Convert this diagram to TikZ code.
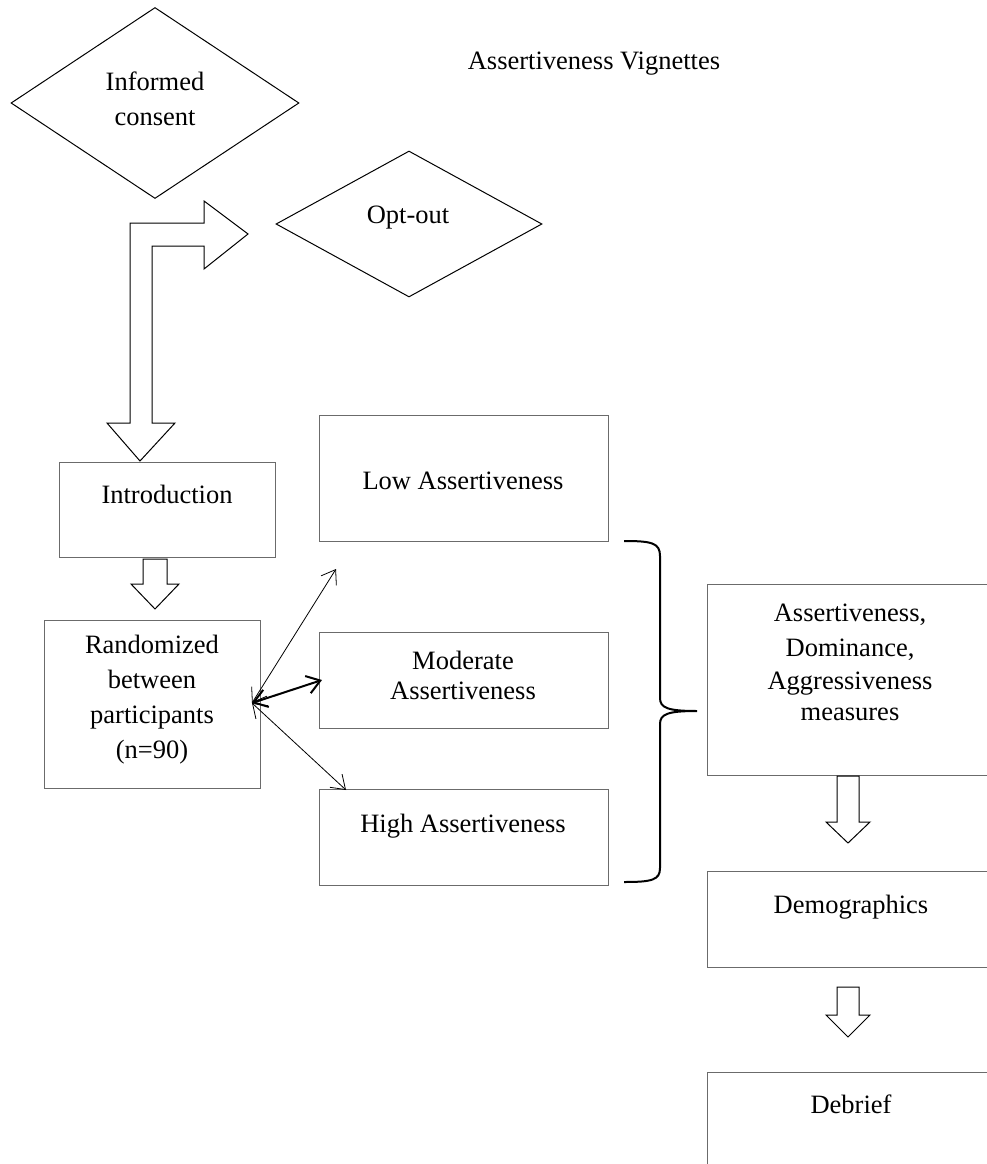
\documentclass[tikz,border=0pt]{standalone}
\usepackage{fontspec}
\setmainfont{Liberation Serif}
\usetikzlibrary{shapes.geometric,arrows.meta}
\definecolor{boxgray}{rgb}{0.42,0.42,0.42}
\begin{document}
\begin{tikzpicture}[x=1pt,y=-1pt,
  stepbox/.style={draw=boxgray, line width=1.3pt, rectangle, inner sep=0pt, anchor=north west},
  decision/.style={draw=black, line width=1pt, diamond, inner sep=0pt},
  lbl/.style={anchor=base, inner sep=0pt, font=\fontsize{26.5}{34}\selectfont},
  blockarrow/.style={draw=black, line width=1pt, fill=white, line join=miter},
  flow/.style={draw=black, line width=0.8pt, {Straight Barb[length=13pt,width=18pt]}-{Straight Barb[length=13pt,width=18pt]}},
  flowbold/.style={flow, line width=2pt},
  bracket/.style={draw=black, line width=2pt}]
\useasboundingbox (0,0) rectangle (987,1164);
\clip (0,0) rectangle (987,1164);

% title
\node[lbl] (title) at (594,70) {Assertiveness Vignettes};

% decisions
\node[decision, minimum width=288pt, minimum height=191pt] (consent) at (155,103) {};
\node[lbl] (consent1) at (155,90) {Informed};
\node[lbl] (consent2) at (155,125) {consent};
\node[decision, minimum width=266pt, minimum height=146pt] (optout) at (409,224) {};
\node[lbl] (optout1) at (408,223) {Opt-out};

% boxes
\node[stepbox, minimum width=216pt, minimum height=95pt] (intro) at (59,462) {};
\node[lbl] (intro1) at (167,503) {Introduction};
\node[stepbox, minimum width=216pt, minimum height=168pt] (rand) at (44,620) {};
\node[lbl] (rand1) at (152,653) {Randomized};
\node[lbl] (rand2) at (152,688) {between};
\node[lbl] (rand3) at (152,723) {participants};
\node[lbl] (rand4) at (152,758) {(n=90)};

\node[stepbox, minimum width=289pt, minimum height=126pt] (low) at (319,415) {};
\node[lbl] (low1) at (463,489) {Low Assertiveness};
\node[stepbox, minimum width=289pt, minimum height=96pt] (mod) at (319,632) {};
\node[lbl] (mod1) at (463,669) {Moderate};
\node[lbl] (mod2) at (463,699) {Assertiveness};
\node[stepbox, minimum width=289pt, minimum height=96pt] (high) at (319,789) {};
\node[lbl] (high1) at (463,832) {High Assertiveness};

\node[stepbox, minimum width=320pt, minimum height=191pt] (meas) at (707,584) {};
\node[lbl] (meas1) at (850,621) {Assertiveness,};
\node[lbl] (meas2) at (850,656) {Dominance,};
\node[lbl] (meas3) at (850,689) {Aggressiveness};
\node[lbl] (meas4) at (850,720) {measures};
\node[stepbox, minimum width=320pt, minimum height=96pt] (demo) at (707,871) {};
\node[lbl] (demo1) at (851,913) {Demographics};
\node[stepbox, minimum width=320pt, minimum height=130pt] (debrief) at (707,1072) {};
\node[lbl] (debrief1) at (851,1113) {Debrief};

% bent block arrow: consent -> opt-out / introduction
\path[blockarrow] (130,423) -- (130,223) -- (204,223) -- (204,201) -- (248,234)
  -- (204,269) -- (204,246) -- (152,246) -- (152,423) -- (175,423) -- (140,461)
  -- (107,423) -- cycle;

% block arrows between stages
\path[blockarrow] (143,559) -- (143,584) -- (131,584) -- (155,609) -- (179,584)
  -- (167,584) -- (167,559) -- cycle;
\path[blockarrow] (837,776) -- (837,822) -- (826,822) -- (848,843) -- (870,822)
  -- (859,822) -- (859,776) -- cycle;
\path[blockarrow] (837,987) -- (837,1015) -- (826,1015) -- (848,1037) -- (870,1015)
  -- (859,1015) -- (859,987) -- cycle;

% random assignment
\coordinate (split) at (252,703);
\coordinate (toLow) at (336,569);
\coordinate (toMod) at (322,680);
\coordinate (toHigh) at (346,790);
\draw[flow] (split) -- (toLow);
\draw[flow] (split) -- (toHigh);
\draw[flowbold] (split) -- (toMod);

% brace collecting the three conditions
\coordinate (braceTop) at (624,541);
\coordinate (braceTip) at (697,711);
\coordinate (braceBot) at (624,882);
\draw[bracket] (braceTop) .. controls (652,541) and (660,543) .. (660,556)
  -- (660,698) .. controls (660,708) and (668,711) .. (braceTip)
  .. controls (668,711) and (660,714) .. (660,724)
  -- (660,868) .. controls (660,880) and (652,882) .. (braceBot);
\end{tikzpicture}
\end{document}
